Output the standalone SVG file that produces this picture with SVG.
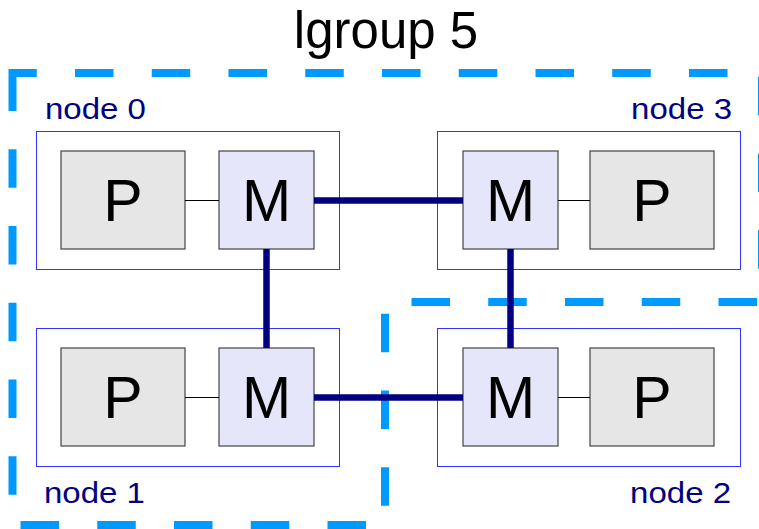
<svg xmlns="http://www.w3.org/2000/svg" width="759" height="529" viewBox="0 0 759 529">
<defs>
<style>
.title{font-family:"Liberation Sans",Arial,sans-serif;font-size:51px;fill:#000}
.lbl{font-family:"Liberation Sans",Arial,sans-serif;font-size:30px;fill:#000080}
.big{font-family:"Liberation Sans",Arial,sans-serif;font-size:59px;fill:#000;text-anchor:middle}
.nbox{fill:#fff;stroke:#3333ff;stroke-width:1}
.pbox{fill:#e6e6e6;stroke:#444;stroke-width:1.2}
.mbox{fill:#e6e6fa;stroke:#444;stroke-width:1.2}
.thin{stroke:#000;stroke-width:1;fill:none}
.thick{stroke:#000080;stroke-width:6.5;fill:none}
.group{fill:none;stroke:#0099ff;stroke-width:8;stroke-dasharray:38.5 38.25;stroke-dashoffset:14.25;stroke-linejoin:miter}
</style>
</defs>
<rect width="759" height="529" fill="#fff"/>
<text class="title" x="386" y="48" text-anchor="middle">lgroup 5</text>
<path id="lgroup" class="group" d="M12.5,73 H762 V302 H385 V525 H12.5 Z"/>
<g id="node0">
<rect class="nbox" x="36.5" y="131.5" width="303" height="138"/>
<text class="lbl" transform="translate(45,119) scale(1.1,1)">node 0</text>
<g id="node0-P"><rect class="pbox" x="61" y="151" width="124" height="98"/><text class="big" x="123" y="221">P</text></g>
<g id="node0-M"><rect class="mbox" x="219" y="151" width="95" height="98"/><text class="big" x="266.5" y="221">M</text></g>
</g>
<g id="node3">
<rect class="nbox" x="437.5" y="131.5" width="303" height="138"/>
<text class="lbl" transform="translate(732,119) scale(1.1,1)" text-anchor="end">node 3</text>
<g id="node3-M"><rect class="mbox" x="463" y="151" width="95" height="98"/><text class="big" x="510.5" y="221">M</text></g>
<g id="node3-P"><rect class="pbox" x="590" y="151" width="124" height="98"/><text class="big" x="652" y="221">P</text></g>
</g>
<g id="node1">
<rect class="nbox" x="36.5" y="328.5" width="303" height="138"/>
<text class="lbl" transform="translate(44,503) scale(1.1,1)">node 1</text>
<g id="node1-P"><rect class="pbox" x="61" y="348" width="124" height="98"/><text class="big" x="123" y="418">P</text></g>
<g id="node1-M"><rect class="mbox" x="219" y="348" width="95" height="98"/><text class="big" x="266.5" y="418">M</text></g>
</g>
<g id="node2">
<rect class="nbox" x="437.5" y="328.5" width="303" height="138"/>
<text class="lbl" transform="translate(731,503) scale(1.1,1)" text-anchor="end">node 2</text>
<g id="node2-M"><rect class="mbox" x="463" y="348" width="95" height="98"/><text class="big" x="510.5" y="418">M</text></g>
<g id="node2-P"><rect class="pbox" x="590" y="348" width="124" height="98"/><text class="big" x="652" y="418">P</text></g>
</g>
<g id="connectors">
<line class="thin" x1="185" y1="200.5" x2="219" y2="200.5"/>
<line class="thin" x1="558" y1="200.5" x2="590" y2="200.5"/>
<line class="thin" x1="185" y1="397.5" x2="219" y2="397.5"/>
<line class="thin" x1="558" y1="397.5" x2="590" y2="397.5"/>
<line class="thick" x1="314" y1="200.5" x2="463" y2="200.5"/>
<line class="thick" x1="266.5" y1="249" x2="266.5" y2="348"/>
<line class="thick" x1="314" y1="397.5" x2="463" y2="397.5"/>
<line class="thick" x1="510.5" y1="249" x2="510.5" y2="348"/>
</g>
</svg>
